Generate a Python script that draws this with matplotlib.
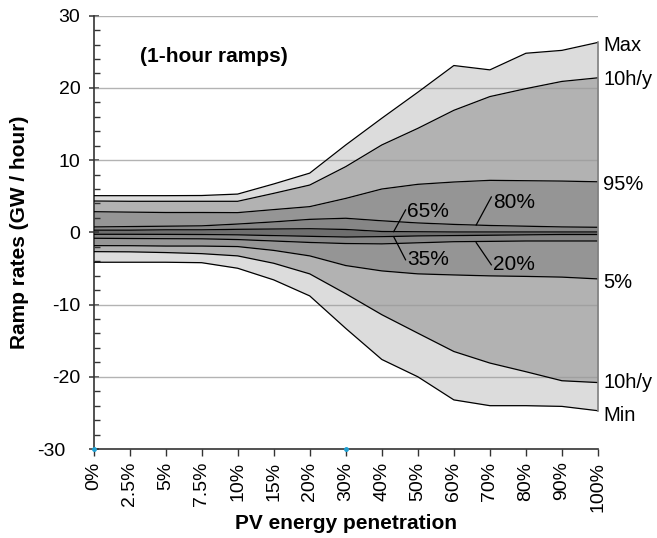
import matplotlib
matplotlib.use("Agg")
import matplotlib.pyplot as plt
import matplotlib.transforms as mtransforms
import numpy as np

plt.rcParams['font.family'] = ['Liberation Sans', 'DejaVu Sans']

categories = ["0%", "2.5%", "5%", "7.5%", "10%", "15%", "20%", "30%", "40%",
              "50%", "60%", "70%", "80%", "90%", "100%"]

s_max   = [5.08, 5.08, 5.08, 5.1, 5.3, 6.7, 8.2, 12.1, 15.8, 19.4, 23.1, 22.5, 24.8, 25.2, 26.3]
s_10hu  = [4.34, 4.3, 4.3, 4.3, 4.3, 5.4, 6.55, 9.1, 12.1, 14.4, 16.9, 18.8, 19.9, 20.9, 21.4]
s_p95   = [2.86, 2.8, 2.75, 2.75, 2.73, 3.15, 3.56, 4.7, 6.0, 6.65, 6.97, 7.2, 7.15, 7.1, 7.0]
s_p80   = [0.75, 0.8, 0.85, 0.9, 1.15, 1.45, 1.8, 1.95, 1.6, 1.3, 1.1, 0.95, 0.85, 0.75, 0.7]
s_p65   = [0.3, 0.3, 0.35, 0.35, 0.42, 0.46, 0.5, 0.4, 0.12, 0.08, 0.05, 0.05, 0.05, 0.05, 0.05]
s_p35   = [-0.27, -0.27, -0.28, -0.3, -0.35, -0.45, -0.55, -0.65, -0.6, -0.5, -0.45, -0.4, -0.35, -0.3, -0.3]
s_p20   = [-0.82, -0.85, -0.88, -0.9, -1.0, -1.2, -1.4, -1.55, -1.6, -1.45, -1.3, -1.25, -1.2, -1.2, -1.2]
s_p05   = [-1.84, -1.85, -1.9, -1.9, -1.97, -2.5, -3.26, -4.6, -5.34, -5.75, -5.9, -6.03, -6.1, -6.2, -6.45]
s_10hl  = [-2.67, -2.7, -2.8, -2.95, -3.26, -4.28, -5.75, -8.5, -11.4, -13.96, -16.5, -18.1, -19.3, -20.55, -20.8]
s_min   = [-4.14, -4.14, -4.14, -4.2, -4.97, -6.58, -8.8, -13.3, -17.6, -20.0, -23.2, -24.0, -24.0, -24.1, -24.7]

y_ticks = [30, 20, 10, 0, -10, -20, -30]
y_tick_labels = ["30", "20", "10", "0", "-10", "-20", "-30"]

right_labels = ["Max", "10h/y", "95%", "5%", "10h/y", "Min"]
right_label_y = [25.9, 21.1, 6.6, -7.0, -20.8, -25.3]

W, H = 657, 538
fig = plt.figure(figsize=(W / 100, H / 100), dpi=100)
ax = fig.add_axes([93.5 / W, 1 - 449 / H, (598 - 93.5) / W, (449 - 15.7) / H])

x = np.arange(len(categories))
series = [s_max, s_10hu, s_p95, s_p80, s_p65, s_p35, s_p20, s_p05, s_10hl, s_min]
colors = ['#dcdcdc', '#b2b2b2', '#959595', '#868686', '#6e6e6e',
          '#868686', '#959595', '#b2b2b2', '#dcdcdc']
for i in range(len(series) - 1):
    ax.fill_between(x, series[i], series[i + 1], color=colors[i], lw=0, zorder=1)

# grid lines
for g in [30, 20, 10, -10, -20]:
    ax.axhline(g, color='#9a9a9a', lw=1.0, alpha=0.75, zorder=2)

for s in series:
    ax.plot(x, s, color='black', lw=0.9, zorder=3)

# right edge of the area
ax.plot([x[-1], x[-1]], [s_min[-1], s_max[-1]], color='#808080', lw=1.2, zorder=3, clip_on=False)

ax.set_xlim(0, 14)
ax.set_ylim(-30, 30)

for sp in ['top', 'right']:
    ax.spines[sp].set_visible(False)
ax.spines['left'].set_color('#333333')
ax.spines['bottom'].set_color('#333333')
ax.spines['left'].set_linewidth(1.2)
ax.spines['bottom'].set_linewidth(1.2)

ax.set_yticks(y_ticks)
ax.set_yticklabels(y_tick_labels)
ax.set_yticks(np.arange(-30, 31, 2), minor=True)
ax.tick_params(axis='y', which='major', direction='inout', length=7, width=1.1,
               labelsize=14, pad=6, colors='#333333', labelcolor='black')
ax.tick_params(axis='y', which='minor', direction='in', length=4, width=1.0, colors='#333333')

# the "-30" label sits further left in the original
fig.canvas.draw()
for lbl in ax.get_yticklabels():
    if lbl.get_text() == "-30":
        lbl.set_transform(lbl.get_transform() +
                          mtransforms.ScaledTranslation(-15 / 100, 0, fig.dpi_scale_trans))

ax.set_xticks(x)
ax.set_xticklabels(categories, rotation=90)
ax.tick_params(axis='x', which='major', direction='out', length=5, width=1.0,
               labelsize=14, pad=4, colors='#333333', labelcolor='black')

ax.set_ylabel("Ramp rates (GW / hour)", fontsize=15, fontweight='bold')
ax.yaxis.set_label_coords(-0.128, 0.5)
ax.set_xlabel("PV energy penetration", fontsize=15, fontweight='bold', labelpad=2)

ax.text(1.3, 24.4, "(1-hour ramps)", fontsize=15, fontweight='bold', va='center', ha='left')

for lab, yv in zip(right_labels, right_label_y):
    ax.text(14.15, yv, lab, fontsize=14.5, va='center', ha='left', clip_on=False)

# inner percentile labels with leader lines
inner = [("65%", (8.33, 0.1), (8.66, 3.1), 2.9),
         ("80%", (10.62, 1.02), (11.04, 4.9), 4.1),
         ("35%", (8.33, -0.6), (8.66, -3.8), -3.8),
         ("20%", (10.62, -1.42), (11.04, -4.5), -4.5)]
for lab, p0, p1, ty in inner:
    ax.plot([p0[0], p1[0]], [p0[1], p1[1]], color='black', lw=0.9, zorder=4)
    ax.text(p1[0] + 0.05, ty, lab, fontsize=15, va='center', ha='left', zorder=5)

# small markers on the axis seen in the original
ax.plot([0, 7], [-30, -30], 'o', color='#1ea0d2', ms=2.5, clip_on=False, zorder=6)

fig.savefig("out.png", dpi=100)
